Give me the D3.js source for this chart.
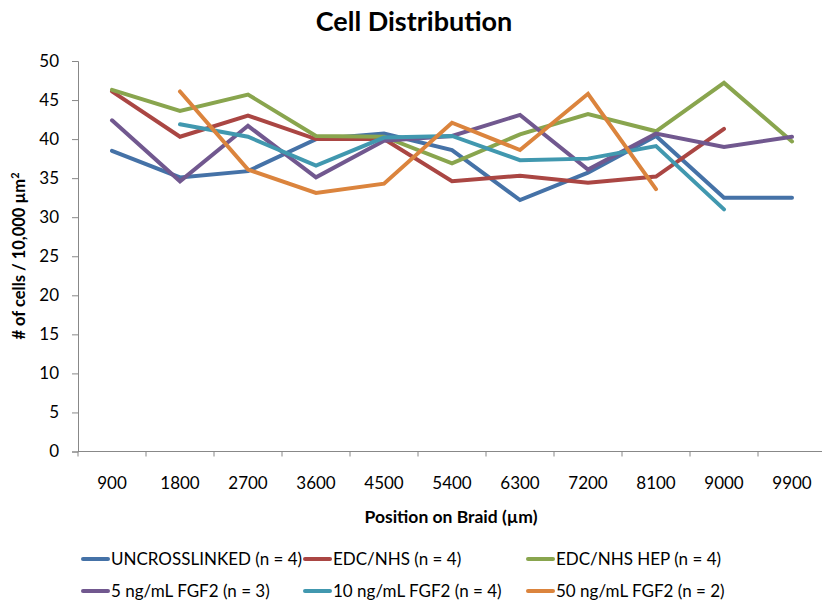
<!DOCTYPE html>
<html>
<head>
<meta charset="utf-8">
<script src="https://cdn.jsdelivr.net/npm/d3@7"></script>
<style>
body { margin: 0; background: #fff; }
text { font-family: Lato, "Open Sans", sans-serif; }
</style>
</head>
<body>
<div id="chart"></div>
<script>
// categories (position on braid, µm)
var positions = ["900", "1800", "2700", "3600", "4500", "5400", "6300", "7200", "8100", "9000", "9900"];
var yTicks = [0, 5, 10, 15, 20, 25, 30, 35, 40, 45, 50];

// series values, null = no data
var uncrosslinked = [38.5, 35.1, 35.9, 40.0, 40.7, 38.6, 32.2, 35.7, 40.4, 32.5, 32.5];
var edcNhs        = [46.1, 40.3, 43.0, 40.0, 40.0, 34.6, 35.3, 34.4, 35.2, 41.3, null];
var edcNhsHep     = [46.3, 43.6, 45.7, 40.4, 40.3, 36.9, 40.6, 43.2, 41.0, 47.2, 39.7];
var fgf5          = [42.4, 34.6, 41.7, 35.1, 39.8, 40.4, 43.1, 36.1, 40.7, 39.0, 40.3];
var fgf10         = [null, 41.9, 40.3, 36.6, 40.2, 40.4, 37.3, 37.5, 39.1, 31.0, null];
var fgf50         = [null, 46.1, 36.1, 33.1, 34.3, 42.1, 38.6, 45.8, 33.6, null, null];

var seriesNames = ["UNCROSSLINKED (n = 4)", "EDC/NHS (n = 4)", "EDC/NHS HEP (n = 4)",
                   "5 ng/mL FGF2 (n = 3)", "10 ng/mL FGF2 (n = 4)", "50 ng/mL FGF2 (n = 2)"];
var seriesColors = ["#4572A7", "#AA4643", "#89A54E", "#71588F", "#4198AF", "#DB843D"];
var seriesValues = [uncrosslinked, edcNhs, edcNhsHep, fgf5, fgf10, fgf50];

var width = 822, height = 601;
var plot = {left: 78, right: 826, top: 61, bottom: 451.5};

var svg = d3.select("#chart")
  .append("svg")
  .attr("width", width)
  .attr("height", height);

var x = d3.scaleBand()
  .domain(positions)
  .range([plot.left, plot.right]);

var y = d3.scaleLinear()
  .domain([0, 50])
  .range([plot.bottom, plot.top]);

// y axis
var yAxis = svg.append("g")
  .attr("transform", "translate(" + plot.left + ",0)")
  .call(d3.axisLeft(y).tickValues(yTicks).tickSize(6).tickPadding(13));
yAxis.select(".domain").attr("stroke", "#888");
yAxis.selectAll(".tick line").attr("stroke", "#888");
yAxis.selectAll(".tick text").style("font-size", "17px").attr("fill", "#000");

// x axis: ticks on band edges, labels at band centres
var xAxis = svg.append("g")
  .attr("transform", "translate(0," + plot.bottom + ")");
xAxis.append("line")
  .attr("x1", plot.left).attr("x2", width)
  .attr("stroke", "#888");
xAxis.selectAll(".edge")
  .data(positions)
  .enter()
  .append("line")
  .attr("x1", function(d) { return x(d); })
  .attr("x2", function(d) { return x(d); })
  .attr("y2", 5)
  .attr("stroke", "#888");
xAxis.selectAll(".lbl")
  .data(positions)
  .enter()
  .append("text")
  .attr("x", function(d) { return x(d) + x.bandwidth() / 2; })
  .attr("y", 37)
  .attr("text-anchor", "middle")
  .style("font-size", "17px")
  .text(function(d) { return d; });

// lines
var line = d3.line()
  .defined(function(d) { return d != null; })
  .x(function(d, i) { return x(positions[i]) + x.bandwidth() / 2; })
  .y(function(d) { return y(d); });

svg.selectAll(".series")
  .data(seriesValues)
  .enter()
  .append("path")
  .attr("class", "series")
  .attr("d", line)
  .attr("fill", "none")
  .attr("stroke", function(d, i) { return seriesColors[i]; })
  .attr("stroke-width", 4)
  .attr("stroke-linecap", "round")
  .attr("stroke-linejoin", "miter");

// title
svg.append("text")
  .attr("x", 414)
  .attr("y", 31)
  .attr("text-anchor", "middle")
  .style("font-size", "27px")
  .style("font-weight", "bold")
  .text("Cell Distribution");

// axis titles
svg.append("text")
  .attr("x", 451)
  .attr("y", 523)
  .attr("text-anchor", "middle")
  .style("font-size", "17.5px")
  .style("font-weight", "bold")
  .text("Position on Braid (µm)");

var yTitle = svg.append("text")
  .attr("transform", "translate(25,256) rotate(-90)")
  .attr("text-anchor", "middle")
  .style("font-size", "16.5px")
  .style("font-weight", "bold");
yTitle.append("tspan").text("# of cells / 10,000 µm");
yTitle.append("tspan").attr("dy", -6).style("font-size", "11px").text("2");

// legend
var legendX = [83, 305, 528];
var legendY = [559, 591];
var legend = svg.selectAll(".legend")
  .data(seriesNames)
  .enter()
  .append("g")
  .attr("transform", function(d, i) {
    return "translate(" + legendX[i % 3] + "," + legendY[Math.floor(i / 3)] + ")";
  });
legend.append("line")
  .attr("x1", 0).attr("x2", 25)
  .attr("stroke", function(d, i) { return seriesColors[i]; })
  .attr("stroke-width", 4)
  .attr("stroke-linecap", "round");
legend.append("text")
  .attr("x", 28)
  .attr("y", 6)
  .style("font-size", "17px")
  .text(function(d) { return d; });
</script>
</body>
</html>
